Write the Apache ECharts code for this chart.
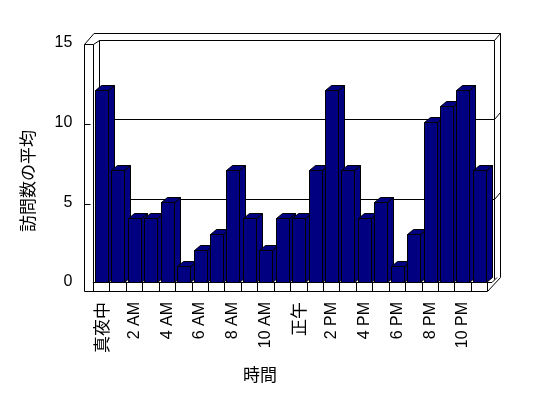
<!DOCTYPE html>
<html>
<head>
<meta charset="utf-8">
<script src="https://cdn.jsdelivr.net/npm/echarts@6/dist/echarts.min.js"></script>
<style>
  html, body { margin: 0; padding: 0; background: #fff; }
  #chart { width: 548px; height: 398px; }
</style>
</head>
<body>
<div id="chart"></div>
<script>
// 時間ごとの訪問数の平均
var hours = [
  "真夜中", "1 AM", "2 AM", "3 AM", "4 AM", "5 AM", "6 AM", "7 AM",
  "8 AM", "9 AM", "10 AM", "11 AM", "正午", "1 PM", "2 PM", "3 PM",
  "4 PM", "5 PM", "6 PM", "7 PM", "8 PM", "9 PM", "10 PM", "11 PM"
];
var visits = [12, 7, 4, 4, 5, 1, 2, 3, 7, 4, 2, 4, 4, 7, 12, 7, 4, 5, 1, 3, 10, 11, 12, 7];
var yMin = 0, yMax = 15, yStep = 5;
var xTitle = "時間";
var yTitle = "訪問数の平均";

var DX = 6, DY = 5; // 奥行き
var CJK = "'Noto Sans CJK JP'";
var LATIN = "'Liberation Sans', Arial";

var chart = echarts.init(document.getElementById("chart"));

function renderBar(params, api) {
  var i = api.value(0), v = api.value(1);
  var top = api.coord([i, v]);
  var base = api.coord([i, 0]);
  var band = api.size([1, 0])[0];
  var w = Math.round(band * 0.81);
  var x0 = Math.round(top[0] - w / 2) + 0.5, x1 = x0 + w;
  var yt = Math.round(top[1]) + 0.5, yb = Math.round(base[1]) + 0.5;
  var st = { fill: "#000080", stroke: "#000", lineWidth: 1 };
  return {
    type: "group",
    children: [
      { type: "polygon", shape: { points: [[x1, yt], [x1 + DX, yt - DY], [x1 + DX, yb - DY], [x1, yb]] }, style: st },
      { type: "polygon", shape: { points: [[x0, yt], [x1, yt], [x1 + DX, yt - DY], [x0 + DX, yt - DY]] }, style: st },
      { type: "rect", shape: { x: x0, y: yt, width: w, height: yb - yt }, style: st }
    ]
  };
}

var option = {
  animation: false,
  backgroundColor: "#fff",
  grid: { left: 93.3, right: 60.4, top: 42.5, bottom: 116 },
  xAxis: {
    type: "category",
    data: hours,
    axisLine: { show: true, lineStyle: { color: "#000", width: 1 } },
    axisTick: { show: true, interval: 0, length: 9, lineStyle: { color: "#000" } },
    axisLabel: {
      interval: 1,
      rotate: 90,
      margin: 20,
      color: "#000",
      formatter: function (v) {
        return /[^\x00-\x7f]/.test(v) ? "{j|" + v + "}" : "{a|" + v + "}";
      },
      rich: {
        j: { fontSize: 17, fontFamily: CJK, color: "#000" },
        a: { fontSize: 16, fontFamily: LATIN, color: "#000" }
      }
    },
    splitLine: { show: false }
  },
  yAxis: {
    type: "value",
    min: yMin,
    max: yMax,
    interval: yStep,
    axisLine: { show: false },
    axisTick: { show: false },
    splitLine: { show: false },
    axisLabel: { margin: 21, color: "#000", fontSize: 16, fontFamily: LATIN }
  },
  series: [{
    type: "custom",
    renderItem: renderBar,
    encode: { x: 0, y: 1 },
    data: visits.map(function (v, i) { return [i, v]; }),
    z: 5
  }]
};
chart.setOption(option);

// 3D 枠（壁・床）
function fy(v) { return chart.convertToPixel({ yAxisIndex: 0 }, v); }
function line(x1, y1, x2, y2) {
  return { type: "line", z: 0, silent: true,
    shape: { x1: x1, y1: y1, x2: x2, y2: y2 },
    style: { stroke: "#000", lineWidth: 1 } };
}
var L0 = 84.5, L1 = 93.5, B0 = 99.5, R0 = 494.5, R1 = 500.5, FR = 487.5;
var floorTop = Math.round(fy(0)) + 0.5, floorBot = floorTop + 9;
var wallTop = 40.5, outerTop = 33.5, leftTop = 44.5;
var g = [
  line(L0, leftTop, L0, floorBot),
  line(L1, leftTop, L1, floorBot),
  line(L0, leftTop, L1, leftTop),
  line(L0, leftTop, 94, outerTop),
  line(L1, leftTop, B0, wallTop),
  line(94, outerTop, R1, outerTop),
  line(R1, outerTop, R1, floorTop - 5),
  line(R1, floorTop - 5, FR, floorBot),
  line(B0, wallTop, R0, wallTop),
  line(B0, wallTop, B0, floorTop - 4),
  line(R0, wallTop, R0, floorTop - 3),
  line(R0, wallTop, R1, outerTop),
  line(FR, floorTop, 492, floorTop),
  line(492, floorTop, 497, floorTop - 5),
  line(L0, floorBot, FR, floorBot)
];
[5, 10].forEach(function (v) {
  var by = Math.round(fy(v) - 3.5) + 0.5;
  g.push(line(B0, by, R0, by));
  g.push(line(R0, by, R1, by - 7));
  var ly = Math.round(fy(v) + 1.5) + 0.5;
  g.push(line(L0, ly, L0 + 6, ly));
});
g.push({
  type: "text", z: 1, x: 28, y: 181, rotation: Math.PI / 2,
  style: { text: yTitle, fill: "#000", font: "17px " + CJK, align: "center", verticalAlign: "middle" }
});
g.push({
  type: "text", z: 1, x: 260, y: 375,
  style: { text: xTitle, fill: "#000", font: "17px " + CJK, align: "center", verticalAlign: "middle" }
});
chart.setOption({ graphic: g });
</script>
</body>
</html>
